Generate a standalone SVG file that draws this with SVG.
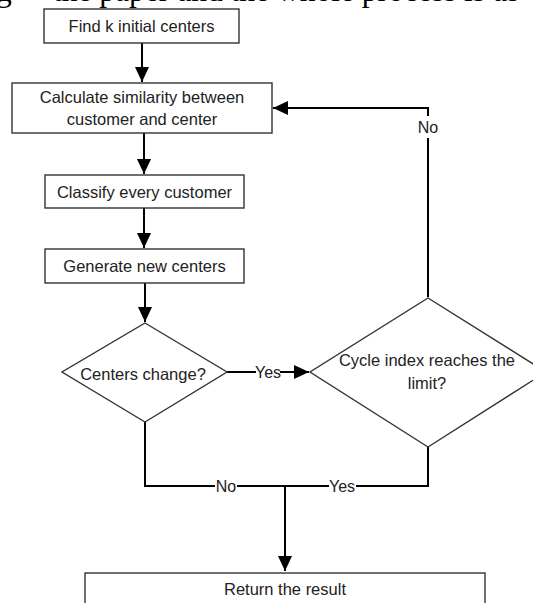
<svg xmlns="http://www.w3.org/2000/svg" width="533" height="603" viewBox="0 0 533 603">
<style>
.box{fill:#fff;stroke:#333;stroke-width:1.4}
.t{font-family:"Liberation Sans",Arial,sans-serif;font-size:16.5px;fill:#222;text-anchor:middle}
.lbl{font-family:"Liberation Sans",Arial,sans-serif;font-size:16px;fill:#222;text-anchor:middle}
.c{fill:none;stroke:#000;stroke-width:2}
.bg{fill:#fff}
</style>
<defs>
<marker id="arr" markerUnits="userSpaceOnUse" markerWidth="16" markerHeight="16" viewBox="0 0 16 16" refX="15" refY="8" orient="auto">
<path d="M0,1 L15,8 L0,15 Z" fill="#000"/>
</marker>
</defs>
<rect width="533" height="603" fill="#fff"/>
<text y="1" font-family="'Liberation Serif',serif" font-size="31.5" fill="#000"><tspan x="-4">g</tspan><tspan x="53">the paper and the whole process is as</tspan></text>

<g id="connectors">
<path class="c" d="M142,43 V82" marker-end="url(#arr)"/>
<path class="c" d="M144,133 V174" marker-end="url(#arr)"/>
<path class="c" d="M144,208 V248" marker-end="url(#arr)"/>
<path class="c" d="M145,283 V322" marker-end="url(#arr)"/>
<path class="c" d="M227,372 H309" marker-end="url(#arr)"/>
<path class="c" d="M428,297 V108 H273" marker-end="url(#arr)"/>
<path class="c" d="M145,422 V486 H285"/>
<path class="c" d="M428,447 V486 H285"/>
<path class="c" d="M285,486 V571" marker-end="url(#arr)"/>
<g id="label-yes1"><rect class="bg" x="256" y="364" width="24" height="16"/><text class="lbl" x="268" y="378">Yes</text></g>
<g id="label-no1"><rect class="bg" x="418" y="116" width="20" height="22"/><text class="lbl" x="428" y="133">No</text></g>
<g id="label-no2"><rect class="bg" x="215" y="478" width="22" height="16"/><text class="lbl" x="226" y="492">No</text></g>
<g id="label-yes2"><rect class="bg" x="329" y="478" width="27" height="16"/><text class="lbl" x="342" y="492">Yes</text></g>
</g>

<g id="n1"><rect class="box" x="44" y="9" width="195" height="34"/><text class="t" x="141.5" y="32">Find k initial centers</text></g>
<g id="n2"><rect class="box" x="12" y="83" width="260" height="50"/><text class="t" x="142" y="103">Calculate similarity between</text><text class="t" x="142" y="125">customer and center</text></g>
<g id="n3"><rect class="box" x="45" y="175" width="199" height="33"/><text class="t" x="144.5" y="197.5">Classify every customer</text></g>
<g id="n4"><rect class="box" x="45" y="249" width="199" height="34"/><text class="t" x="144.5" y="272">Generate new centers</text></g>
<g id="d1"><polygon class="box" points="145,323 227,372 145,422 62,372"/><text class="t" x="143" y="380">Centers change?</text></g>
<g id="d2"><polygon class="box" points="428,298 546,372 428,447 310,372"/><text class="t" x="427" y="366">Cycle index reaches the</text><text class="t" x="427" y="389">limit?</text></g>
<g id="n5"><rect class="box" x="85" y="573" width="400" height="40"/><text class="t" x="285" y="595">Return the result</text></g>
</svg>
